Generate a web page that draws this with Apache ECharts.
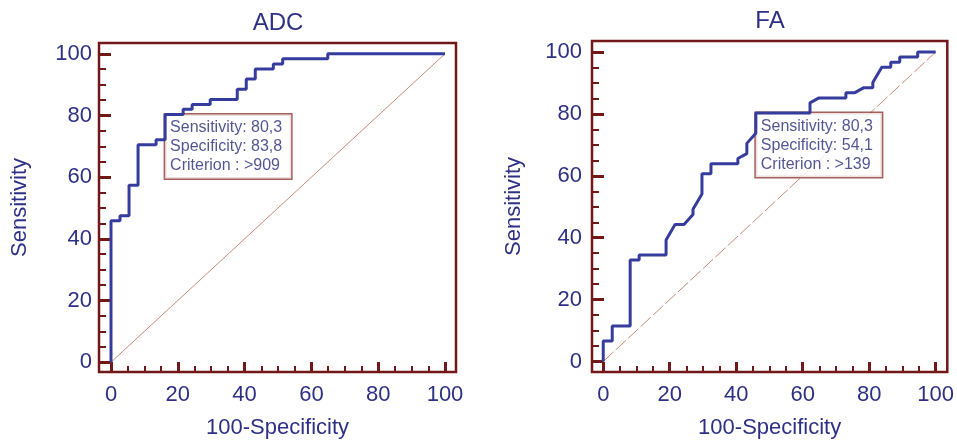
<!DOCTYPE html>
<html>
<head>
<meta charset="utf-8">
<script src="https://cdn.jsdelivr.net/npm/echarts@6/dist/echarts.min.js"></script>
<style>
html,body{margin:0;padding:0;background:#fff;}
#chart{width:957px;height:444px;}
</style>
</head>
<body>
<div id="chart"></div>
<script>
// ---- data ----
var panelTitles = ['ADC', 'FA'];
var xAxisName = '100-Specificity';
var yAxisName = 'Sensitivity';

var adcX = [0,0,2.7,2.7,5.4,5.4,8.1,8.1,13.5,13.5,16.2,16.2,21.6,21.6,24.3,24.3,29.7,29.7,37.8,37.8,40.5,40.5,43.2,43.2,48.6,48.6,51.4,51.4,64.9,64.9,100];
var adcY = [0,45.9,45.9,47.5,47.5,57.4,57.4,70.5,70.5,72.1,72.1,80.3,80.3,82.0,82.0,83.6,83.6,85.2,85.2,88.5,88.5,91.8,91.8,95.1,95.1,96.7,96.7,98.4,98.4,100,100];

var faX = [0,0,2.7,2.7,8.1,8.1,10.8,10.8,18.9,18.9,21.6,24.3,27.0,27.0,29.7,29.7,32.4,32.4,40.5,40.5,43.2,43.2,45.9,45.9,62.2,62.2,64.9,73.0,73.0,75.7,78.4,81.1,81.1,83.8,86.5,86.5,89.2,89.2,94.6,94.6,100];
var faY = [0,6.6,6.6,11.5,11.5,32.8,32.8,34.4,34.4,39.3,44.3,44.3,47.5,49.2,54.1,60.7,60.7,63.9,63.9,65.6,67.2,70.5,73.8,80.3,80.3,83.6,85.2,85.2,86.9,86.9,88.5,88.5,90.2,95.1,95.1,96.7,96.7,98.4,98.4,100,100];

var diagX = [0, 100];
var diagY = [0, 100];

// criterion annotation (box anchored at [100-Specificity, Sensitivity])
var adcCrit = {x: 16.2, y: 80.3, sens: '80,3', spec: '83,8', crit: '>909'};
var faCrit  = {x: 45.9, y: 80.3, sens: '80,3', spec: '54,1', crit: '>139'};

var majorTicks = [0, 20, 40, 60, 80, 100];
var minorTicks = [5, 10, 15, 25, 30, 35, 45, 50, 55, 65, 70, 75, 85, 90, 95];

// ---- styles ----
var FRAME = '#731818';
var NAVY = '#2E3084';
var ROC = '#363C9E';
var DIAG = '#C98A78';
var FONT = '"Liberation Sans", Arial, sans-serif';

// axis extents so that the frame sits a little outside 0..100
var adcRange = {x: [-3.593, 103.293], y: [-3.185, 103.503]};
var faRange  = {x: [-3.383, 103.503], y: [-3.397, 103.587]};

function zip(a, b) { return a.map(function (v, i) { return [v, b[i]]; }); }

function xMajor(grid, r) {
  return {
    type: 'value', gridIndex: grid, min: r[0], max: r[1], position: 'bottom',
    name: xAxisName, nameLocation: 'middle', nameGap: 45,
    nameTextStyle: {color: NAVY, fontSize: 22, fontFamily: FONT},
    axisLine: {show: false, onZero: false},
    axisTick: {show: true, inside: true, length: 10, customValues: majorTicks, lineStyle: {color: FRAME, width: 3}},
    axisLabel: {show: true, customValues: majorTicks, color: NAVY, fontSize: 22, fontFamily: FONT, margin: 12},
    splitLine: {show: false}
  };
}
function xMinor(grid, r) {
  return {
    type: 'value', gridIndex: grid, min: r[0], max: r[1], position: 'bottom',
    axisLine: {show: false, onZero: false},
    axisTick: {show: true, inside: true, length: 6, customValues: minorTicks, lineStyle: {color: FRAME, width: 2}},
    axisLabel: {show: false},
    splitLine: {show: false}
  };
}
function yMajor(grid, r, margin, gap) {
  return {
    type: 'value', gridIndex: grid, min: r[0], max: r[1], position: 'left',
    name: yAxisName, nameLocation: 'middle', nameGap: gap, nameRotate: 90,
    nameTextStyle: {color: NAVY, fontSize: 22, fontFamily: FONT},
    axisLine: {show: false, onZero: false},
    axisTick: {show: true, inside: true, length: 12, customValues: majorTicks, lineStyle: {color: FRAME, width: 3}},
    axisLabel: {show: true, customValues: majorTicks, color: NAVY, fontSize: 22, fontFamily: FONT, margin: margin},
    splitLine: {show: false}
  };
}
function yMinor(grid, r) {
  return {
    type: 'value', gridIndex: grid, min: r[0], max: r[1], position: 'left',
    axisLine: {show: false, onZero: false},
    axisTick: {show: true, inside: true, length: 7, customValues: minorTicks, lineStyle: {color: FRAME, width: 2}},
    axisLabel: {show: false},
    splitLine: {show: false}
  };
}
function critSeries(axisIdx, c) {
  return {
    type: 'scatter', xAxisIndex: axisIdx, yAxisIndex: axisIdx, z: 4,
    symbolSize: 0, silent: true,
    data: [[c.x, c.y]],
    label: {
      show: true, position: [0, 0], align: 'left', verticalAlign: 'top',
      formatter: 'Sensitivity: ' + c.sens + '\nSpecificity: ' + c.spec + '\nCriterion : ' + c.crit,
      color: '#282A78', fontSize: 16, fontFamily: FONT, lineHeight: 19,
      backgroundColor: '#ffffff', borderColor: '#8C3A34', borderWidth: 1.5,
      padding: [4, 9, 3, 5]
    }
  };
}
function rocSeries(axisIdx, xs, ys) {
  return {
    type: 'line', xAxisIndex: axisIdx, yAxisIndex: axisIdx, z: 5,
    data: zip(xs, ys), showSymbol: false, symbol: 'none', silent: true,
    lineStyle: {color: ROC, width: 3}
  };
}
function diagSeries(axisIdx, dashed) {
  return {
    type: 'line', xAxisIndex: axisIdx, yAxisIndex: axisIdx, z: 2,
    data: zip(diagX, diagY), symbol: 'none', silent: true,
    lineStyle: {color: DIAG, width: 1, type: dashed ? [14, 3] : 'solid'}
  };
}

var chart = echarts.init(document.getElementById('chart'), null, {renderer: 'canvas'});
chart.setOption({
  animation: false,
  backgroundColor: '#ffffff',
  title: [
    {text: panelTitles[0], left: 278, top: 11, textAlign: 'center', padding: 0,
     textStyle: {color: NAVY, fontSize: 24, fontWeight: 'normal', fontFamily: FONT}},
    {text: panelTitles[1], left: 770, top: 9, textAlign: 'center', padding: 0,
     textStyle: {color: NAVY, fontSize: 24, fontWeight: 'normal', fontFamily: FONT}}
  ],
  grid: [
    {left: 99, top: 43, width: 357, height: 335, show: true, borderColor: FRAME, borderWidth: 2.5, backgroundColor: 'transparent'},
    {left: 592, top: 41, width: 357, height: 337, show: true, borderColor: FRAME, borderWidth: 2.5, backgroundColor: 'transparent'}
  ],
  xAxis: [xMajor(0, adcRange.x), xMajor(1, faRange.x), xMinor(0, adcRange.x), xMinor(1, faRange.x)],
  yAxis: [yMajor(0, adcRange.y, 7, 68), yMajor(1, faRange.y, 10, 67), yMinor(0, adcRange.y), yMinor(1, faRange.y)],
  series: [
    diagSeries(0, false), rocSeries(0, adcX, adcY), critSeries(0, adcCrit),
    diagSeries(1, true), rocSeries(1, faX, faY), critSeries(1, faCrit)
  ]
});
</script>
</body>
</html>
